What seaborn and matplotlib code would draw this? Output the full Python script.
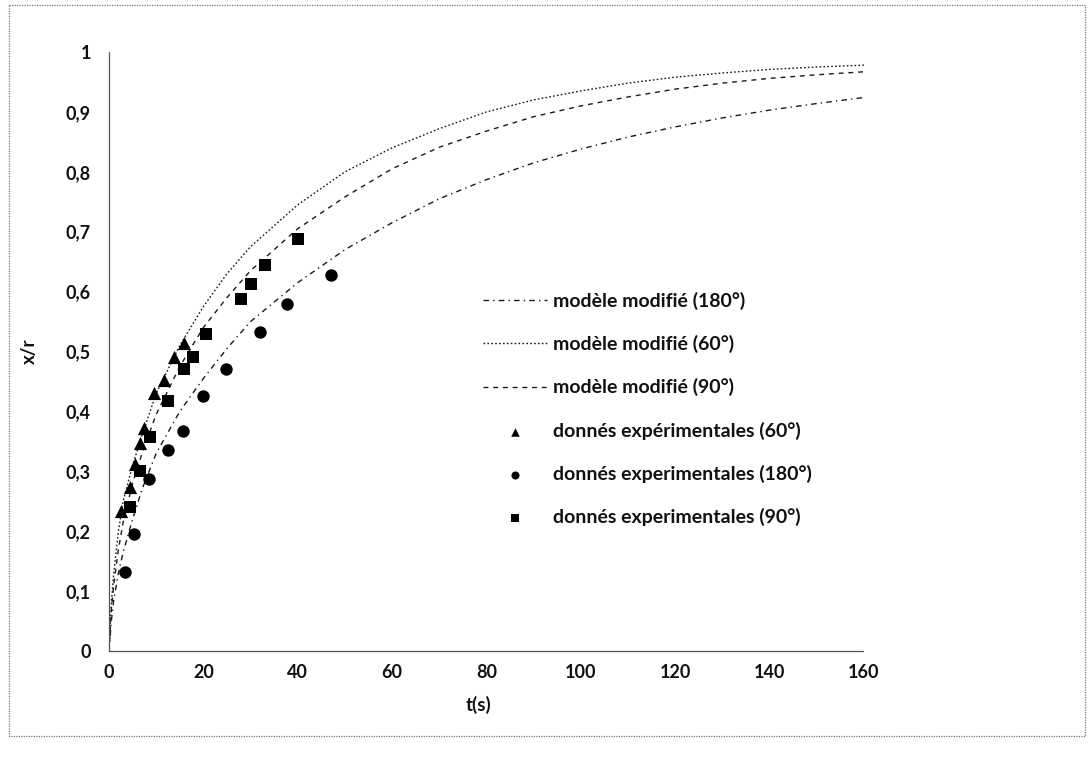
import numpy as np
import pandas as pd
import matplotlib
matplotlib.use("Agg")
import matplotlib.pyplot as plt
from matplotlib.lines import Line2D
from matplotlib.ticker import FuncFormatter
import seaborn as sns

# ---- data ----
t_model = [0, 0.5, 1, 2, 3, 5, 7, 10, 15, 20, 25, 30, 40, 50, 60, 70, 80,
           90, 100, 110, 120, 130, 140, 150, 160]
model_180 = [0, 0.05, 0.085, 0.13, 0.165, 0.22, 0.27, 0.33, 0.40, 0.455, 0.505,
             0.55, 0.615, 0.67, 0.715, 0.755, 0.787, 0.815, 0.838, 0.858,
             0.875, 0.89, 0.903, 0.914, 0.924]
model_60 = [0, 0.08, 0.13, 0.20, 0.25, 0.31, 0.36, 0.43, 0.51, 0.575, 0.63,
            0.675, 0.745, 0.80, 0.84, 0.872, 0.90, 0.92, 0.935, 0.948, 0.958,
            0.965, 0.971, 0.975, 0.978]
model_90 = [0, 0.07, 0.11, 0.17, 0.215, 0.28, 0.33, 0.395, 0.475, 0.54, 0.59,
            0.635, 0.705, 0.758, 0.805, 0.841, 0.868, 0.892, 0.91, 0.925,
            0.938, 0.948, 0.956, 0.962, 0.967]

t_exp60 = [2.5, 4.5, 5.5, 6.6, 7.5, 9.6, 11.7, 13.7, 15.9]
y_exp60 = [0.233, 0.273, 0.312, 0.347, 0.373, 0.431, 0.452, 0.491, 0.514]

t_exp180 = [3.4, 5.4, 8.5, 12.5, 15.7, 19.9, 24.8, 32.1, 37.7, 47.1]
y_exp180 = [0.132, 0.196, 0.287, 0.335, 0.367, 0.426, 0.471, 0.532, 0.580, 0.628]

t_exp90 = [4.5, 6.6, 8.7, 12.6, 15.8, 17.8, 20.6, 28.0, 30.1, 33.0, 40.1]
y_exp90 = [0.241, 0.301, 0.357, 0.418, 0.471, 0.490, 0.530, 0.587, 0.612, 0.644, 0.687]

x_ticks = [0, 20, 40, 60, 80, 100, 120, 140, 160]
y_ticks = [0, 0.1, 0.2, 0.3, 0.4, 0.5, 0.6, 0.7, 0.8, 0.9, 1.0]

labels = ["modèle modifié (180°)", "modèle modifié (60°)", "modèle modifié (90°)",
          "donnés expérimentales (60°)", "donnés experimentales (180°)",
          "donnés experimentales (90°)"]

# ---- style ----
sns.set_theme(style="white")
plt.rcParams["font.family"] = ["Lato", "DejaVu Sans"]
plt.rcParams["font.weight"] = "bold"

W, H = 1091, 759
fig = plt.figure(figsize=(W / 100, H / 100), dpi=100)
fig.patch.set_facecolor("white")
ax = fig.add_axes([109 / W, 1 - 651 / H, (864 - 109) / W, (651 - 52) / H])
ax.set_facecolor("white")

lc = "#1a1a1a"
sns.lineplot(x=t_model, y=model_180, ax=ax, color=lc, lw=1.0,
             linestyle=(0, (4, 3, 1, 3)), label=labels[0], sort=True)
sns.lineplot(x=t_model, y=model_60, ax=ax, color=lc, lw=1.0,
             linestyle=(0, (1.2, 1.6)), label=labels[1], sort=True)
sns.lineplot(x=t_model, y=model_90, ax=ax, color=lc, lw=1.0,
             linestyle=(0, (3.5, 3.5)), label=labels[2], sort=True)

sns.scatterplot(x=t_exp60, y=y_exp60, ax=ax, marker="^", s=90, color="black",
                edgecolor="black", linewidth=0, label=labels[3], zorder=5)
sns.scatterplot(x=t_exp180, y=y_exp180, ax=ax, marker="o", s=80, color="black",
                edgecolor="black", linewidth=0, label=labels[4], zorder=5)
sns.scatterplot(x=t_exp90, y=y_exp90, ax=ax, marker="s", s=70, color="black",
                edgecolor="black", linewidth=0, label=labels[5], zorder=5)

ax.set_xlim(0, 160)
ax.set_ylim(0, 1)
ax.set_xticks(x_ticks)
ax.set_yticks(y_ticks)


def fmt(v, pos):
    s = f"{v:.1f}".replace(".", ",")
    if s.endswith(",0"):
        s = s[:-2]
    return s


ax.yaxis.set_major_formatter(FuncFormatter(fmt))
ax.xaxis.set_major_formatter(FuncFormatter(lambda v, p: f"{int(round(v))}"))

for side in ["top", "right"]:
    ax.spines[side].set_visible(False)
for side in ["left", "bottom"]:
    ax.spines[side].set_visible(True)
    ax.spines[side].set_color("#555555")
    ax.spines[side].set_linewidth(0.9)
    ax.spines[side].set_linestyle((0, (1, 1)))

ax.tick_params(axis="both", which="major", direction="out", length=4, width=0.7,
               color="#555555", labelsize=13, labelcolor="#111111")
ax.tick_params(axis="x", pad=5)
ax.tick_params(axis="y", pad=9)
for lab in ax.get_xticklabels() + ax.get_yticklabels():
    lab.set_fontweight("bold")

ax.set_xlabel("t(s)", fontsize=13.5, fontweight="bold", color="#111111")
ax.set_ylabel("x/r", fontsize=13.5, fontweight="bold", color="#111111")
ax.xaxis.set_label_coords(0.49, (651 - 696) / 599)
ax.yaxis.set_label_coords((38 - 109) / 755, 0.5)

leg = ax.legend(loc="center left", bbox_to_anchor=(483 / W, 1 - 409 / H),
                bbox_transform=fig.transFigure, frameon=False, fontsize=14,
                handlelength=3.3, handletextpad=0.3, labelspacing=1.3,
                borderpad=0, borderaxespad=0, markerscale=0.65)
for txt in leg.get_texts():
    txt.set_fontweight("bold")
    txt.set_color("#111111")

# outer dotted border of the chart area
border_kw = dict(color="#777777", lw=0.9, linestyle=(0, (1, 1)),
                 transform=fig.transFigure)
x0, x1, y0, y1 = 9 / W, 1085 / W, 1 - 5 / H, 1 - 736 / H
fig.add_artist(Line2D([x0, x1, x1, x0, x0], [y0, y0, y1, y1, y0], **border_kw))

fig.savefig("out.png", dpi=100, facecolor="white")
